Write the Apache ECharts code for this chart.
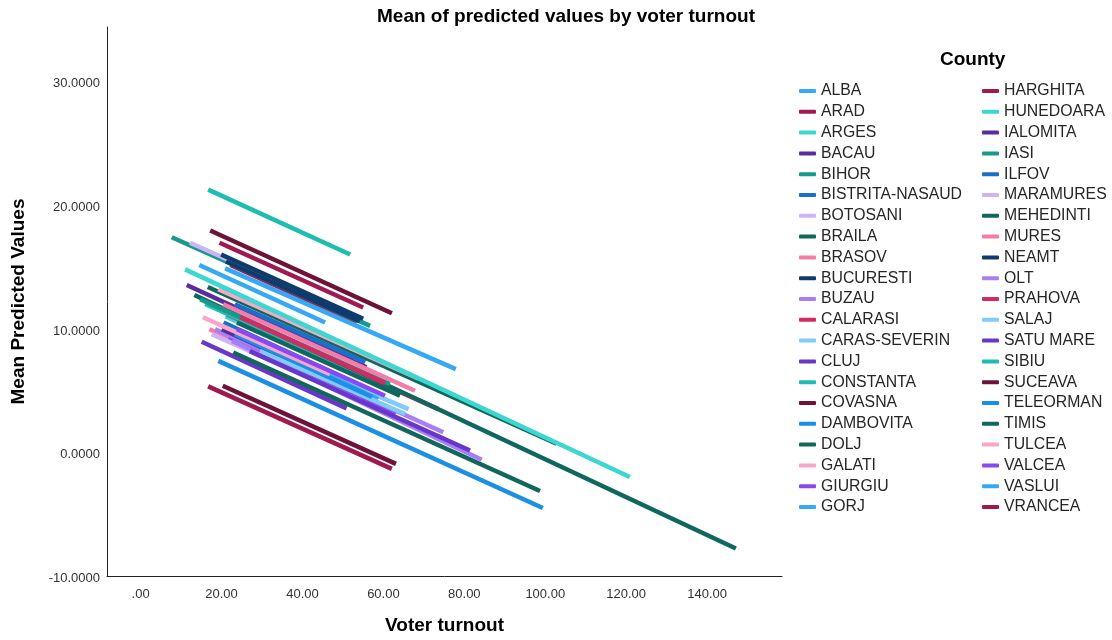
<!DOCTYPE html>
<html>
<head>
<meta charset="utf-8">
<script src="https://cdn.jsdelivr.net/npm/echarts@6/dist/echarts.min.js"></script>
<style>
html,body{margin:0;padding:0;background:#fff;}
#chart{width:1112px;height:640px;}
</style>
</head>
<body>
<div id="chart"></div>
<script>
const counties = ['ALBA','ARAD','ARGES','BACAU','BIHOR','BISTRITA-NASAUD','BOTOSANI','BRAILA','BRASOV','BUCURESTI','BUZAU','CALARASI','CARAS-SEVERIN','CLUJ','CONSTANTA','COVASNA','DAMBOVITA','DOLJ','GALATI','GIURGIU','GORJ','HARGHITA','HUNEDOARA','IALOMITA','IASI','ILFOV','MARAMURES','MEHEDINTI','MURES','NEAMT','OLT','PRAHOVA','SALAJ','SATU MARE','SIBIU','SUCEAVA','TELEORMAN','TIMIS','TULCEA','VALCEA','VASLUI','VRANCEA'];

const startTurnout = [14.5,22.2,21.0,11.4,7.7,20.5,12.2,16.6,17.0,19.9,18.4,21.3,24.6,15.1,16.0,17.2,19.2,13.3,19.2,21.6,27.0,19.5,11.0,20.1,14.7,23.3,17.6,22.9,20.4,21.1,22.6,24.6,29.5,27.0,16.7,20.3,23.3,23.8,15.4,23.8,20.9,16.7];
const startPred    = [15.15,15.15,11.0,13.53,17.4,10.5,16.95,13.37,9.96,16.0,9.96,11.17,9.3,8.94,12.0,17.94,7.4,12.73,13.19,9.15,9.3,16.95,14.8,9.96,12.38,11.98,9.56,8.08,11.98,15.44,9.0,10.93,8.2,8.19,21.25,5.39,9.56,10.5,10.93,9.96,14.88,5.34];
const endTurnout   = [45.6,53.4,63.0,55.8,56.7,57.4,46.8,102.8,52.6,55.0,74.8,73.6,66.2,50.9,58.0,62.1,99.4,147.1,68.6,62.9,58.7,55.0,120.9,56.7,61.6,55.5,54.3,98.7,67.8,54.2,84.3,60.4,65.4,81.4,51.8,63.1,57.2,64.1,46.8,60.4,77.9,62.1];
const endPred      = [10.5,10.5,4.8,6.87,10.23,4.96,11.9,0.69,4.72,10.8,1.63,3.5,3.5,3.56,5.8,11.25,-4.5,-7.78,5.98,3.02,4.3,11.71,-2.0,4.48,5.52,7.3,4.15,-3.13,4.98,10.6,-0.6,5.6,3.1,0.15,16.0,-0.93,4.48,4.58,6.33,4.58,6.73,-1.34];

const xTicks = [0,20,40,60,80,100,120,140];
const yTicks = [-10,0,10,20,30];

const palette = ['#35a9f5','#a0194f','#3bd7d0','#5a2d9e','#17998b','#1b6fc9','#cdb4f9','#11675b','#f47ca6','#0e3b6c',
                 '#a67ff7','#d42a63','#7fcbfb','#6a36c9','#1ebdb0','#6d1238','#1b8ee6','#0f6860','#f8a8c6','#8a48f2'];

const FONT = 'Liberation Sans, Arial, sans-serif';
const chart = echarts.init(document.getElementById('chart'), null, {renderer:'canvas'});

const series = counties.map((name, i) => {
  const c = palette[i % palette.length];
  return {
    name: name,
    type: 'line',
    data: [[startTurnout[i], startPred[i]], [endTurnout[i], endPred[i]]],
    showSymbol: false,
    symbol: 'none',
    color: c,
    itemStyle: {color: c},
    lineStyle: {color: c, width: 4.5},
    emphasis: {disabled: true},
    silent: true
  };
});

const legendCommon = {
  orient: 'vertical',
  icon: 'roundRect',
  itemWidth: 17,
  itemHeight: 4,
  itemGap: 4.8,
  top: 83,
  padding: 0,
  selectedMode: false,
  textStyle: {fontFamily: FONT, fontSize: 15.8, color: '#262626', lineHeight: 16}
};

chart.setOption({
  animation: false,
  backgroundColor: '#ffffff',
  title: {
    text: 'Mean of predicted values by voter turnout',
    left: 561,
    textAlign: 'center',
    top: 2,
    textStyle: {fontFamily: FONT, fontSize: 19, fontWeight: 'bold', color: '#000'}
  },
  graphic: [{
    type: 'text',
    left: 940,
    top: 50,
    style: {text: 'County', x: 0, fontFamily: FONT, fontSize: 19, fontWeight: 'bold', fill: '#000', textAlign: 'center'}
  }],
  legend: [
    Object.assign({}, legendCommon, {left: 799, data: counties.slice(0, 21)}),
    Object.assign({}, legendCommon, {left: 982, data: counties.slice(21)})
  ],
  grid: {left: 107, right: 330, top: 27, bottom: 62.5, containLabel: false},
  xAxis: {
    type: 'value',
    min: -8.3,
    max: 158.5,
    name: 'Voter turnout',
    nameLocation: 'middle',
    nameGap: 40,
    nameTextStyle: {fontFamily: FONT, fontSize: 19, fontWeight: 'bold', color: '#000'},
    axisLine: {show: true, onZero: false, lineStyle: {color: '#222', width: 1}},
    axisTick: {show: false},
    splitLine: {show: false},
    axisLabel: {
      customValues: xTicks,
      margin: 12,
      fontFamily: FONT, fontSize: 13, color: '#333',
      formatter: v => v === 0 ? '.00' : v.toFixed(2)
    }
  },
  yAxis: {
    type: 'value',
    min: -10,
    max: 34.4,
    name: 'Mean Predicted Values',
    nameLocation: 'middle',
    nameGap: 79,
    nameTextStyle: {fontFamily: FONT, fontSize: 19, fontWeight: 'bold', color: '#000'},
    axisLine: {show: true, onZero: false, lineStyle: {color: '#222', width: 1}},
    axisTick: {show: false},
    splitLine: {show: false},
    axisLabel: {
      customValues: yTicks,
      margin: 7,
      fontFamily: FONT, fontSize: 13, color: '#333',
      formatter: v => '{a|' + v.toFixed(4) + '}',
      rich: {a: {fontFamily: FONT, fontSize: 13, color: '#333', padding: [5, 0, 0, 0]}}
    }
  },
  series: series
});
</script>
</body>
</html>
